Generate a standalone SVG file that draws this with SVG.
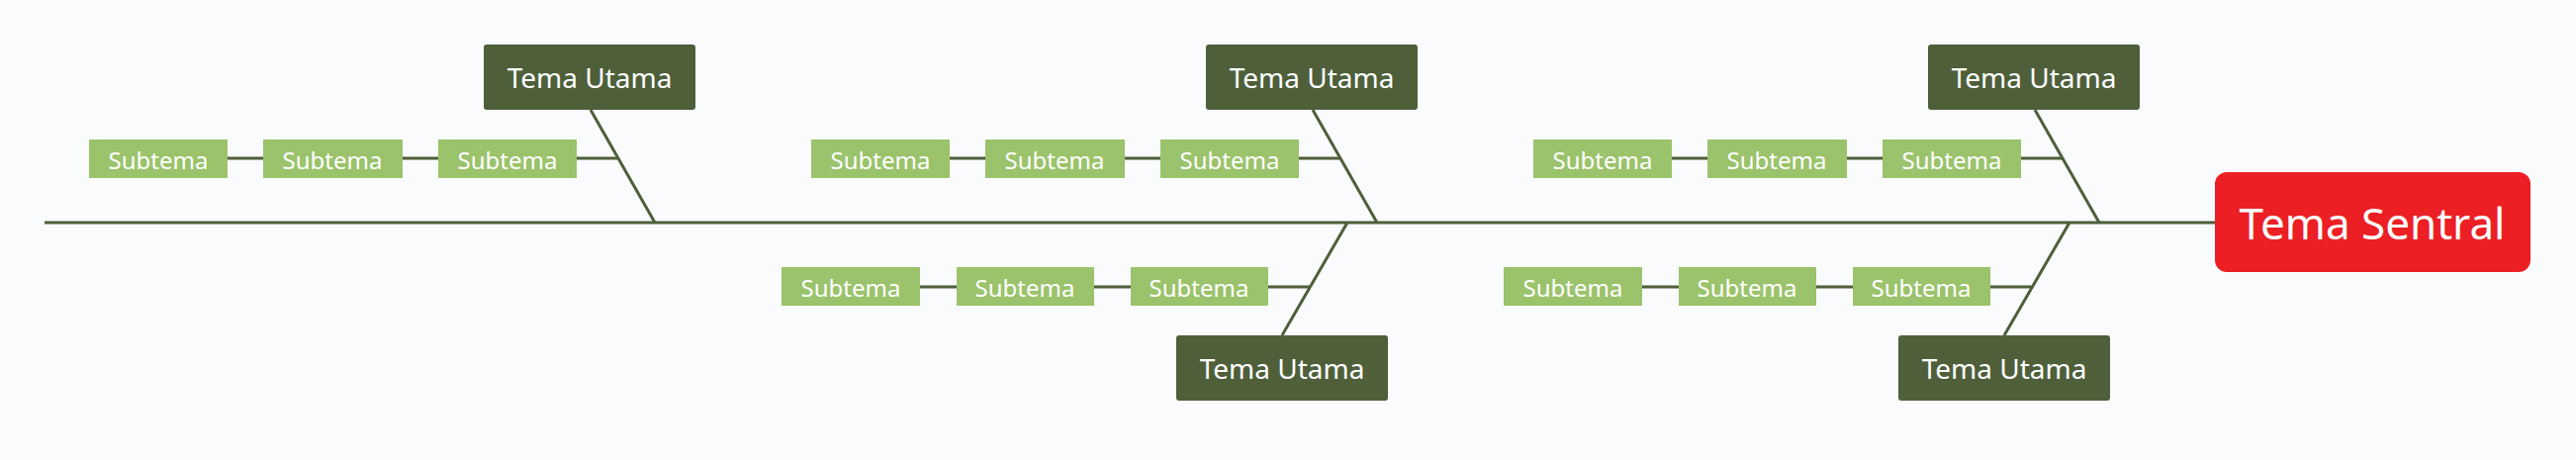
<svg xmlns="http://www.w3.org/2000/svg" width="2604" height="465" viewBox="0 0 2604 465">
<style>
.main rect{fill:#4e5f3a}
.sub rect{fill:#9bc36b}
text{font-family:"Noto Sans","Open Sans",sans-serif;fill:#fff;text-anchor:middle;dominant-baseline:central}
.main text{font-size:28px}
.sub text{font-size:24px}
#conn line{stroke:#4e5f3a;stroke-width:3}
</style>
<rect width="2604" height="465" fill="#f9fbfd"/>
<g id="conn">
<line x1="45" y1="225" x2="2239" y2="225"/>
<line x1="597" y1="111" x2="662" y2="225"/>
<line x1="1327" y1="111" x2="1392" y2="225"/>
<line x1="2057" y1="111" x2="2122" y2="225"/>
<line x1="1362" y1="225" x2="1296" y2="339"/>
<line x1="2092" y1="225" x2="2026" y2="339"/>
<line x1="230" y1="160" x2="266" y2="160"/><line x1="407" y1="160" x2="443" y2="160"/><line x1="583" y1="160" x2="625" y2="160"/>
<line x1="960" y1="160" x2="996" y2="160"/><line x1="1137" y1="160" x2="1173" y2="160"/><line x1="1313" y1="160" x2="1355" y2="160"/>
<line x1="1690" y1="160" x2="1726" y2="160"/><line x1="1867" y1="160" x2="1903" y2="160"/><line x1="2043" y1="160" x2="2085" y2="160"/>
<line x1="930" y1="290" x2="967" y2="290"/><line x1="1106" y1="290" x2="1143" y2="290"/><line x1="1282" y1="290" x2="1325" y2="290"/>
<line x1="1660" y1="290" x2="1697" y2="290"/><line x1="1836" y1="290" x2="1873" y2="290"/><line x1="2012" y1="290" x2="2055" y2="290"/>
</g>
<g id="central"><rect x="2239" y="174" width="319" height="101" rx="12" fill="#eb1f24"/><text x="2398" y="225" style="font-size:44px">Tema Sentral</text></g>
<g id="m1" class="main"><rect x="489" y="45" width="214" height="66" rx="3"/><text x="596" y="78">Tema Utama</text></g>
<g id="m2" class="main"><rect x="1219" y="45" width="214" height="66" rx="3"/><text x="1326" y="78">Tema Utama</text></g>
<g id="m3" class="main"><rect x="1949" y="45" width="214" height="66" rx="3"/><text x="2056" y="78">Tema Utama</text></g>
<g id="m4" class="main"><rect x="1189" y="339" width="214" height="66" rx="3"/><text x="1296" y="372">Tema Utama</text></g>
<g id="m5" class="main"><rect x="1919" y="339" width="214" height="66" rx="3"/><text x="2026" y="372">Tema Utama</text></g>
<g id="s1" class="sub"><rect x="90" y="141" width="140" height="39"/><text x="160" y="161">Subtema</text></g>
<g id="s2" class="sub"><rect x="266" y="141" width="141" height="39"/><text x="336" y="161">Subtema</text></g>
<g id="s3" class="sub"><rect x="443" y="141" width="140" height="39"/><text x="513" y="161">Subtema</text></g>
<g id="s4" class="sub"><rect x="820" y="141" width="140" height="39"/><text x="890" y="161">Subtema</text></g>
<g id="s5" class="sub"><rect x="996" y="141" width="141" height="39"/><text x="1066" y="161">Subtema</text></g>
<g id="s6" class="sub"><rect x="1173" y="141" width="140" height="39"/><text x="1243" y="161">Subtema</text></g>
<g id="s7" class="sub"><rect x="1550" y="141" width="140" height="39"/><text x="1620" y="161">Subtema</text></g>
<g id="s8" class="sub"><rect x="1726" y="141" width="141" height="39"/><text x="1796" y="161">Subtema</text></g>
<g id="s9" class="sub"><rect x="1903" y="141" width="140" height="39"/><text x="1973" y="161">Subtema</text></g>
<g id="s10" class="sub"><rect x="790" y="270" width="140" height="39"/><text x="860" y="290">Subtema</text></g>
<g id="s11" class="sub"><rect x="967" y="270" width="139" height="39"/><text x="1036" y="290">Subtema</text></g>
<g id="s12" class="sub"><rect x="1143" y="270" width="139" height="39"/><text x="1212" y="290">Subtema</text></g>
<g id="s13" class="sub"><rect x="1520" y="270" width="140" height="39"/><text x="1590" y="290">Subtema</text></g>
<g id="s14" class="sub"><rect x="1697" y="270" width="139" height="39"/><text x="1766" y="290">Subtema</text></g>
<g id="s15" class="sub"><rect x="1873" y="270" width="139" height="39"/><text x="1942" y="290">Subtema</text></g>
</svg>
